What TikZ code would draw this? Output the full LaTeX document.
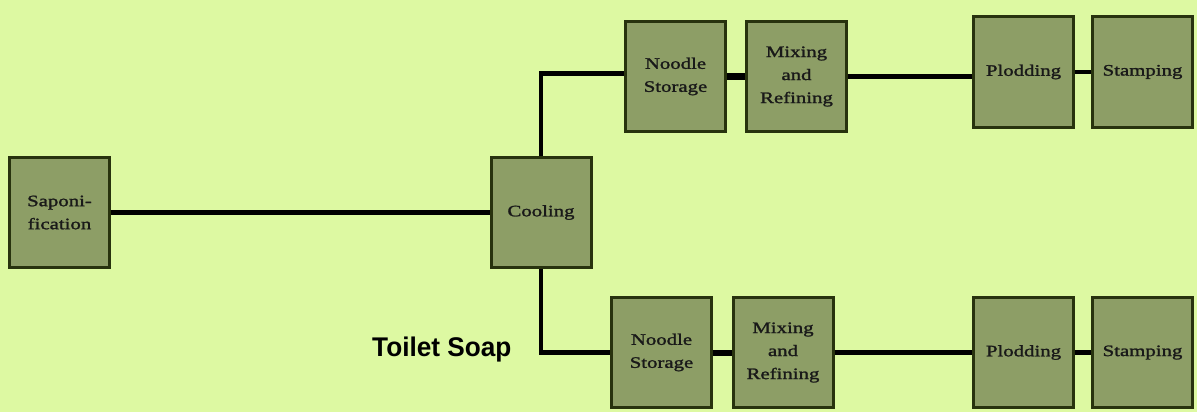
\documentclass[tikz,border=0pt]{standalone}
\usepackage{fontspec}
\usetikzlibrary{calc}
\newfontfamily\boxfont[FakeStretch=1.3,FakeBold=1.5]{Liberation Serif}
\newfontfamily\labfont{Liberation Sans}
\definecolor{bg}{HTML}{DDF9A2}
\definecolor{boxfill}{HTML}{8D9E66}
\definecolor{boxline}{HTML}{28330E}
\tikzset{
  stepbox/.style={draw=boxline, line width=3pt, fill=boxfill, minimum width=100pt, minimum height=110pt,
    inner sep=0pt, align=center, font=\boxfont\fontsize{16}{23}\selectfont, text=black!90},
  link/.style={line width=4.5pt, black},
  thick link/.style={line width=7pt, black}
}
\begin{document}
\begin{tikzpicture}[x=1pt,y=-1pt]
\useasboundingbox (0,0) rectangle (1197,412);
\fill[bg] (0,0) rectangle (1197,412);
\node[stepbox] (sap) at (59.5,212.5) {Saponi-\\fication};
\node[stepbox] (cool) at (541,212.5) {Cooling};
\node[stepbox] (ns1) at (675.5,76.5) {Noodle\\Storage};
\node[stepbox] (mx1) at (796.5,76.5) {Mixing\\and\\Refining};
\node[stepbox] (pl1) at (1023.5,72) {Plodding};
\node[stepbox] (st1) at (1142.5,72) {Stamping};
\node[stepbox] (ns2) at (661.5,352.5) {Noodle\\Storage};
\node[stepbox] (mx2) at (783,352.5) {Mixing\\and\\Refining};
\node[stepbox] (pl2) at (1023.5,352.5) {Plodding};
\node[stepbox] (st2) at (1142.5,352.5) {Stamping};
\node[font=\labfont\bfseries\fontsize{27}{30}\selectfont, anchor=west, inner sep=0pt, xscale=0.97] (ts) at (372,350) {Toilet Soap};
\draw[link] (sap.east) -- (cool.west);
\draw[link] (cool.north) |- ($(ns1.west)+(0,-3)$);
\draw[thick link] (ns1.east) -- (mx1.west);
\draw[link] (mx1.east) -- (mx1.east -| pl1.west);
\draw[link] (pl1.east) -- (st1.west);
\draw[link] (cool.south) |- (ns2.west);
\draw[link, line width=6pt] (ns2.east) -- (mx2.west);
\draw[link] (mx2.east) -- (pl2.west);
\draw[link] (pl2.east) -- (st2.west);
\end{tikzpicture}
\end{document}
